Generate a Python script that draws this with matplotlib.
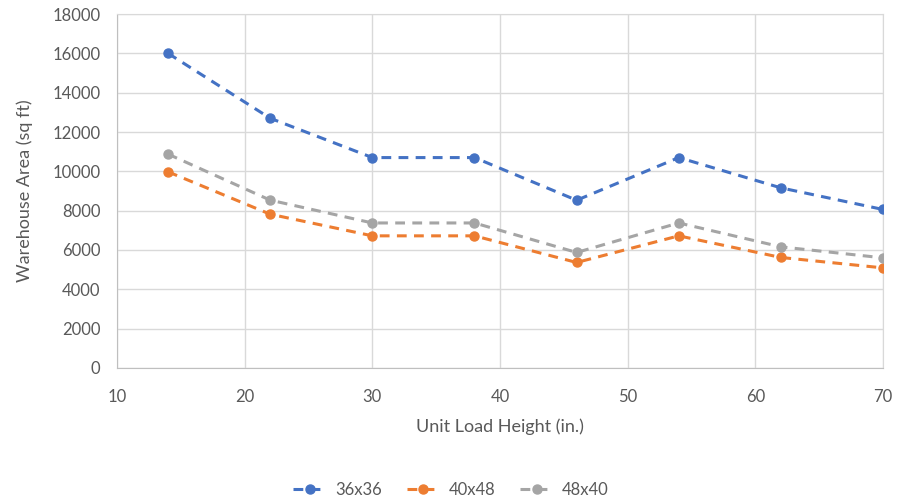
import matplotlib
matplotlib.use("Agg")
import matplotlib.pyplot as plt

heights = [14, 22, 30, 38, 46, 54, 62, 70]
area_36x36 = [16000, 12700, 10700, 10700, 8530, 10700, 9160, 8060]
area_40x48 = [9975, 7820, 6720, 6720, 5365, 6720, 5620, 5090]
area_48x40 = [10875, 8535, 7375, 7375, 5875, 7375, 6160, 5600]
series_names = ["36x36", "40x48", "48x40"]
colors = ["#4472C4", "#ED7D31", "#A5A5A5"]

plt.rcParams["font.family"] = ["Lato", "DejaVu Sans"]
text_color = "#595959"

fig = plt.figure(figsize=(9.02, 5.01), dpi=100)
ax = fig.add_axes([0.1297, 0.2655, 0.979 - 0.1297, 0.972 - 0.2655])

for vals, name, c in zip([area_36x36, area_40x48, area_48x40], series_names, colors):
    ax.plot(heights, vals, color=c, linestyle=(0, (3.2, 2.4)), linewidth=2.2,
            marker="o", markersize=6.5, label=name, zorder=3)

ax.set_xlim(10, 70)
ax.set_ylim(0, 18000)
ax.set_xticks(range(10, 71, 10))
ax.set_yticks(range(0, 18001, 2000))
ax.grid(True, color="#D9D9D9", linewidth=1)
ax.set_axisbelow(True)
for s in ax.spines.values():
    s.set_color("#D9D9D9")
ax.spines["bottom"].set_color("#BFBFBF")
ax.spines["left"].set_color("#BFBFBF")
ax.tick_params(axis="y", length=0, labelsize=12, colors=text_color, pad=12)
ax.tick_params(axis="x", length=0, labelsize=12, colors=text_color, pad=15)

ax.set_xlabel("Unit Load Height (in.)", fontsize=13, color=text_color, labelpad=10)
ax.set_ylabel("Warehouse Area (sq ft)", fontsize=13, color=text_color, labelpad=14)

fig.legend(loc="center", bbox_to_anchor=(0.5, 0.022), ncol=3, frameon=False,
           fontsize=12, labelcolor=text_color, handlelength=2.0, columnspacing=1.5,
           handletextpad=0.5)

fig.savefig("out.png", dpi=100)
